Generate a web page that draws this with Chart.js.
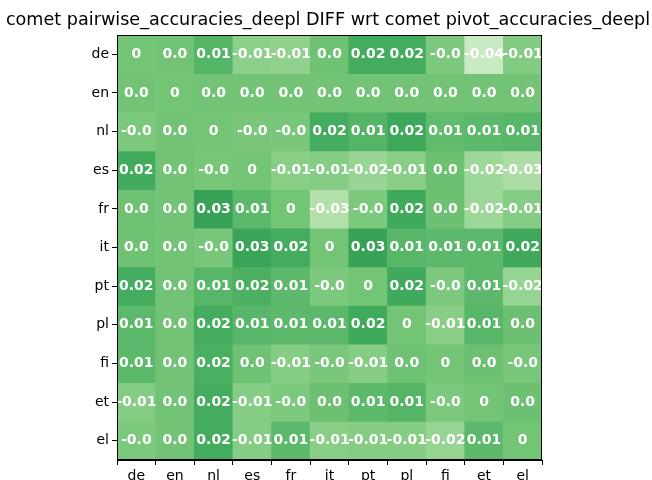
<!DOCTYPE html>
<html>
<head>
<meta charset="utf-8">
<script src="https://cdn.jsdelivr.net/npm/chart.js@4"></script>
<style>
  body { margin: 0; background: #fff; }
  canvas { display: block; }
</style>
</head>
<body>
<canvas id="myChart" width="652" height="480"></canvas>
<script>
// languages on both axes
const langs = ['de', 'en', 'nl', 'es', 'fr', 'it', 'pt', 'pl', 'fi', 'et', 'el'];
const titleText = 'comet pairwise_accuracies_deepl DIFF wrt comet pivot_accuracies_deepl';

// diff values, one array per row
const row_de = [0, 0.001, 0.013, -0.012, -0.013, 0.002, 0.02, 0.02, -0.004, -0.043, -0.007];
const row_en = [0.001, 0, 0.001, 0.001, 0.001, 0.001, 0.001, 0.001, 0.001, 0.001, 0.001];
const row_nl = [-0.004, 0.001, 0, -0.003, -0.003, 0.02, 0.013, 0.024, 0.008, 0.01, 0.012];
const row_es = [0.021, 0.001, -0.002, 0, -0.01, -0.008, -0.017, -0.01, 0.003, -0.02, -0.027];
const row_fr = [0.002, 0.001, 0.028, 0.01, 0, -0.03, -0.004, 0.022, 0.003, -0.02, -0.008];
const row_it = [0.002, 0.001, -0.002, 0.026, 0.02, 0, 0.028, 0.012, 0.01, 0.01, 0.023];
const row_pt = [0.02, 0.001, 0.012, 0.017, 0.01, -0.004, 0, 0.022, -0.004, 0.01, -0.016];
const row_pl = [0.01, 0.001, 0.02, 0.012, 0.01, 0.01, 0.022, 0, -0.01, 0.012, 0.003];
const row_fi = [0.01, 0.001, 0.018, 0.002, -0.008, -0.003, -0.008, 0.002, 0, 0.003, -0.002];
const row_et = [-0.008, 0.001, 0.02, -0.008, -0.004, 0.003, 0.01, 0.013, -0.004, 0, 0.003];
const row_el = [-0.004, 0.001, 0.02, -0.008, 0.01, -0.01, -0.008, -0.008, -0.016, 0.01, 0];

const rows = [row_de, row_en, row_nl, row_es, row_fr, row_it, row_pt, row_pl, row_fi, row_et, row_el];

// matplotlib "Greens"
const greens = ['#f7fcf5', '#e5f5e0', '#c7e9c0', '#a1d99b', '#74c476', '#41ab5d', '#238b45', '#006d2c', '#00441b'];
const vlim = 0.085;

function hex(c) {
    return [1, 3, 5].map(i => parseInt(c.substr(i, 2), 16));
}

function cmap(v) {
    let t = 0.5 + v / (2 * vlim);
    t = Math.max(0, Math.min(1, t));
    const p = t * (greens.length - 1);
    const i = Math.min(Math.floor(p), greens.length - 2);
    const f = p - i;
    const a = hex(greens[i]), b = hex(greens[i + 1]);
    const c = a.map((x, k) => Math.round(x + (b[k] - x) * f));
    return 'rgb(' + c.join(',') + ')';
}

function fmt(v, i, j) {
    if (i === j) return '0';
    const r = Math.round(v * 100) / 100;
    if (r === 0) return v < 0 ? '-0.0' : '0.0';
    return r.toFixed(2);
}

const datasets = rows.map((vals, i) => ({
    label: langs[i],
    data: vals.map(() => [i - 0.5, i + 0.5]),
    backgroundColor: vals.map(v => cmap(v)),
    borderWidth: 0,
    barPercentage: 1,
    categoryPercentage: 1,
    grouped: false
}));

// write the numbers in each cell
const cellText = {
    id: 'cellText',
    afterDatasetsDraw(chart) {
        const ctx = chart.ctx;
        ctx.save();
        ctx.fillStyle = '#fff';
        ctx.font = 'bold 14px "DejaVu Sans"';
        ctx.textAlign = 'center';
        ctx.textBaseline = 'middle';
        rows.forEach((vals, i) => {
            const meta = chart.getDatasetMeta(i);
            meta.data.forEach((bar, j) => {
                const y = (bar.y + bar.base) / 2;
                ctx.fillText(fmt(vals[j], i, j), bar.x, y);
            });
        });
        ctx.restore();
    }
};

// black frame round the plot + title centred over the axes
const frame = {
    id: 'frame',
    afterDraw(chart) {
        const a = chart.chartArea;
        const ctx = chart.ctx;
        ctx.save();
        ctx.strokeStyle = '#000';
        ctx.lineWidth = 1;
        ctx.strokeRect(Math.round(a.left) + 0.5, Math.round(a.top) + 0.5, Math.round(a.right - a.left) - 1, Math.round(a.bottom - a.top) - 1);
        ctx.fillStyle = '#000';
        ctx.font = '17.6px "DejaVu Sans"';
        ctx.textAlign = 'center';
        ctx.textBaseline = 'middle';
        ctx.fillText(titleText, 328, 20);
        ctx.restore();
    }
};

const config = {
    type: 'bar',
    data: {
        labels: langs,
        datasets: datasets
    },
    options: {
        responsive: false,
        animation: false,
        layout: {
            padding: { left: 0, right: 110, top: 35, bottom: 0 }
        },
        plugins: {
            legend: { display: false },
            tooltip: { enabled: false },
            title: { display: false }
        },
        scales: {
            x: {
                offset: true,
                grid: { display: true, drawOnChartArea: false, color: '#000', tickColor: '#000', tickLength: 5 },
                border: { display: true, color: '#000' },
                ticks: {
                    color: '#000',
                    padding: 3,
                    font: { family: 'DejaVu Sans', size: 14 }
                },
                afterFit(scale) { scale.height = 20; }
            },
            y: {
                type: 'linear',
                reverse: true,
                min: -0.5,
                max: 10.5,
                grid: { display: true, drawOnChartArea: false, color: '#000', tickColor: '#000', tickLength: 5 },
                border: { display: true, color: '#000' },
                afterBuildTicks(scale) {
                    scale.ticks = langs.map((l, i) => ({ value: i }));
                },
                ticks: {
                    color: '#000',
                    padding: 3,
                    font: { family: 'DejaVu Sans', size: 14 },
                    callback: function(value) {
                        return langs[value];
                    }
                },
                afterFit(scale) { scale.width = 117; }
            }
        }
    },
    plugins: [cellText, frame]
};

let myChart = new Chart(
    document.getElementById('myChart'),
    config
);
</script>
</body>
</html>
